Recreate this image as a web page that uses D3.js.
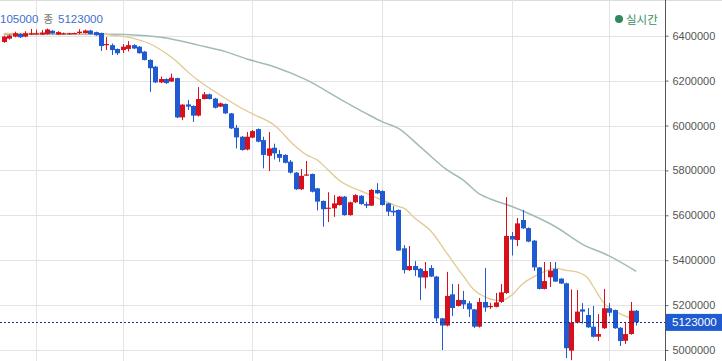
<!DOCTYPE html>
<html><head><meta charset="utf-8">
<script src="https://cdn.jsdelivr.net/npm/d3@7/dist/d3.min.js"></script>
<style>html,body{margin:0;padding:0;background:#fff;overflow:hidden}</style>
</head><body><svg id="c" width="722" height="361"></svg>
<script>
// prices in thousands of won
const UNIT = 1000;
const openK = [
6372,6387,6396,6408,6396,6405,6407,6405,6407,6422,
6405,6408,6408,6410,6412,6412,6423,6416,6412,6358,
6358,6341,6336,6341,6358,6351,6329,6292,6262,6192,
6207,6196,6211,6036,6094,6087,6044,6118,6139,6120,
6084,6096,6054,5990,5950,5893,5946,5984,5935,5865,
5901,5873,5869,5839,5790,5716,5778,5784,5720,5664,
5630,5631,5646,5683,5601,5658,5687,5650,5643,5713,
5708,5653,5620,5624,5453,5356,5374,5362,5323,5365,
5327,5141,5109,5248,5196,5223,5208,5181,5104,5214,
5192,5192,5214,5254,5508,5490,5579,5543,5487,5368,
5272,5324,5361,5318,5297,4997,5122,5181,5156,5104,
5059,5097,5186,5178,5099,5041,5071,5175];
const highK = [
6400,6405,6418,6411,6420,6430,6427,6425,6432,6425,
6420,6414,6413,6414,6429,6427,6426,6418,6414,6394,
6365,6343,6363,6376,6362,6354,6332,6295,6265,6218,
6210,6231,6213,6095,6114,6090,6171,6149,6142,6123,
6102,6098,6056,6002,5953,5971,5980,5987,5950,5971,
5919,5891,5872,5846,5793,5806,5842,5786,5722,5666,
5703,5690,5686,5686,5661,5694,5690,5660,5717,5743,
5712,5656,5641,5626,5467,5463,5396,5365,5392,5378,
5330,5143,5348,5294,5294,5263,5218,5183,5232,5365,
5210,5254,5294,5681,5526,5588,5624,5546,5490,5370,
5392,5392,5392,5320,5300,5270,5267,5209,5187,5196,
5160,5272,5209,5180,5102,5125,5214,5178];
const lowK = [
6368,6383,6393,6390,6393,6403,6405,6403,6405,6407,
6403,6405,6406,6408,6407,6410,6405,6400,6332,6336,
6314,6314,6323,6330,6340,6320,6290,6150,6189,6189,
6185,6194,6033,6024,6069,6016,6040,6116,6116,6076,
6082,6051,5984,5898,5888,5889,5944,5925,5809,5797,
5849,5838,5831,5786,5713,5713,5776,5702,5622,5549,
5570,5593,5643,5598,5598,5655,5647,5632,5641,5695,
5643,5597,5597,5441,5341,5352,5330,5223,5274,5325,
5127,5000,5105,5151,5194,5183,5147,5098,5100,5170,
5183,5190,5210,5250,5421,5463,5539,5480,5352,5270,
5270,5281,5303,5294,4964,4955,5118,5118,5098,5056,
5040,5094,5150,5094,5018,5027,5068,5109];
const closeK = [
6396,6401,6411,6393,6411,6411,6411,6414,6428,6410,
6416,6411,6411,6412,6418,6423,6407,6402,6354,6363,
6336,6322,6351,6358,6343,6322,6292,6255,6192,6207,
6189,6213,6036,6093,6084,6044,6118,6139,6118,6079,
6099,6054,5987,5947,5891,5950,5975,5928,5869,5898,
5876,5856,5834,5790,5716,5776,5782,5705,5661,5627,
5634,5653,5683,5601,5658,5690,5650,5643,5713,5698,
5646,5616,5613,5443,5356,5374,5356,5323,5352,5327,
5141,5109,5241,5187,5223,5203,5181,5104,5214,5189,
5196,5212,5257,5508,5492,5564,5542,5483,5368,5272,
5307,5354,5305,5296,5008,5122,5171,5171,5101,5059,
5071,5186,5166,5097,5040,5071,5175,5123];

// moving averages (candle index, value in thousands)
const maShortIdx = [0,10,18,20,24,27,30,32,34,36,40,44,46,50,54,56,58,60,62,67,70,73,74,76,79,82,85,87,89,91,92,94,96,98,100,102,104,106,108,109,111,114,117];
const maShortVal = [6410,6410,6408,6402,6388,6364,6322,6285,6240,6200,6136,6077,6052,6002,5906,5869,5846,5802,5757,5699,5668,5639,5632,5588,5530,5430,5330,5267,5237,5222,5220,5245,5295,5326,5349,5365,5355,5348,5322,5285,5210,5162,5135];
const maLongIdx = [0,20,25,30,36,41,45,50,56,62,67,70,73,77,82,85,88,91,94,97,102,107,112,117];
const maLongVal = [6405,6406,6402,6390,6358,6329,6296,6262,6203,6121,6054,6017,5987,5906,5802,5757,5695,5664,5639,5609,5550,5472,5419,5350];

const yTicks = [5000000,5200000,5400000,5600000,5800000,6000000,6200000,6400000];
const gridIdx = [6,22,46,70,94,112];
const lastPrice = 5123000;
const headerPrev = "105000", headerWord = "종", headerLast = "5123000";
const liveLabel = "실시간";

const svg = d3.select("#c");
const axisX = 665;
const x = d3.scaleLinear().domain([0, 117]).range([3.8, 636.2]);
const y = d3.scaleLinear().domain([5000000, 6400000]).range([350, 35.7]);

// top border
svg.append("line").attr("x1",0).attr("x2",722).attr("y1",0.5).attr("y2",0.5).attr("stroke","#dcdcdc");

// grid
svg.append("g").selectAll("line").data(yTicks).join("line")
  .attr("x1",0).attr("x2",axisX)
  .attr("y1",d=>Math.round(y(d))+0.5).attr("y2",d=>Math.round(y(d))+0.5)
  .attr("stroke","#e3e3e3");
svg.append("g").selectAll("line").data(gridIdx).join("line")
  .attr("x1",d=>Math.round(x(d))+0.5).attr("x2",d=>Math.round(x(d))+0.5)
  .attr("y1",0).attr("y2",361).attr("stroke","#e3e3e3");

// moving averages
const lineGen = d3.line().x(d=>x(d[0])).y(d=>y(d[1]*UNIT)).curve(d3.curveMonotoneX);
svg.append("path").datum(maLongIdx.map((d,i)=>[d,maLongVal[i]]))
  .attr("d",lineGen).attr("fill","none").attr("stroke","#a3baba").attr("stroke-width",1.5);
svg.append("path").datum(maShortIdx.map((d,i)=>[d,maShortVal[i]]))
  .attr("d",lineGen).attr("fill","none").attr("stroke","#e2c994").attr("stroke-width",1.3);

// candles
const candles = openK.map((o,i)=>({i, o:o*UNIT, h:highK[i]*UNIT, l:lowK[i]*UNIT, c:closeK[i]*UNIT}));
const RED = "#d8101c", BLUE = "#1f5ad0";
const g = svg.append("g");
g.selectAll("line").data(candles).join("line")
  .attr("x1",d=>Math.round(x(d.i))+0.5).attr("x2",d=>Math.round(x(d.i))+0.5)
  .attr("y1",d=>y(d.h)).attr("y2",d=>y(d.l))
  .attr("stroke",d=>d.c>=d.o?RED:BLUE).attr("stroke-width",1);
g.selectAll("rect").data(candles).join("rect")
  .attr("x",d=>Math.round(x(d.i))-2).attr("width",5)
  .attr("y",d=>y(Math.max(d.o,d.c)))
  .attr("height",d=>Math.max(1.2, Math.abs(y(d.o)-y(d.c))))
  .attr("fill",d=>d.c>=d.o?RED:BLUE);

// current price dashed line
svg.append("line").attr("x1",0).attr("x2",axisX)
  .attr("y1",Math.round(y(lastPrice))+0.5).attr("y2",Math.round(y(lastPrice))+0.5)
  .attr("stroke","#1b2a8c").attr("stroke-dasharray","2,2").attr("stroke-width",1);

// y axis
const ax = svg.append("g").attr("transform",`translate(${axisX+0.5},0)`)
  .call(d3.axisRight(y).tickValues(yTicks).tickSize(3).tickPadding(4).tickFormat(d3.format("d")));
ax.select(".domain").remove();
ax.selectAll(".tick line").attr("stroke","#666");
ax.selectAll(".tick text").attr("fill","#555").style("font-family","'Liberation Sans',Arial,sans-serif").style("font-size","11px");
svg.append("line").attr("x1",axisX+0.5).attr("x2",axisX+0.5).attr("y1",0).attr("y2",361).attr("stroke","#555");

// current price label
svg.append("rect").attr("x",axisX+1).attr("y",y(lastPrice)-8.5).attr("width",722-axisX-1).attr("height",17).attr("fill","#1f5ad0");
svg.append("text").attr("x",axisX+7).attr("y",y(lastPrice)+4).attr("fill","#fff")
  .style("font-family","'Liberation Sans',Arial,sans-serif").style("font-size","11.5px")
  .text(d3.format("d")(lastPrice));

// header text
const ht = svg.append("text").attr("x",0).attr("y",23)
  .style("font-family","'Liberation Sans','Noto Sans CJK KR',sans-serif").style("font-size","11.5px");
ht.append("tspan").attr("fill","#3d6fcc").text(headerPrev);
ht.append("tspan").attr("fill","#777").attr("dx",5).style("font-family","'Noto Sans CJK KR',sans-serif").style("font-size","10.5px").text(headerWord);
ht.append("tspan").attr("fill","#3d6fcc").attr("dx",5).text(headerLast);

// live indicator
svg.append("circle").attr("cx",619).attr("cy",19).attr("r",4).attr("fill","#2e8a5a");
svg.append("text").attr("x",626).attr("y",23.5).attr("fill","#3a9064")
  .style("font-family","'Noto Sans CJK KR',sans-serif").style("font-size","11.5px").text(liveLabel);
</script></body></html>
